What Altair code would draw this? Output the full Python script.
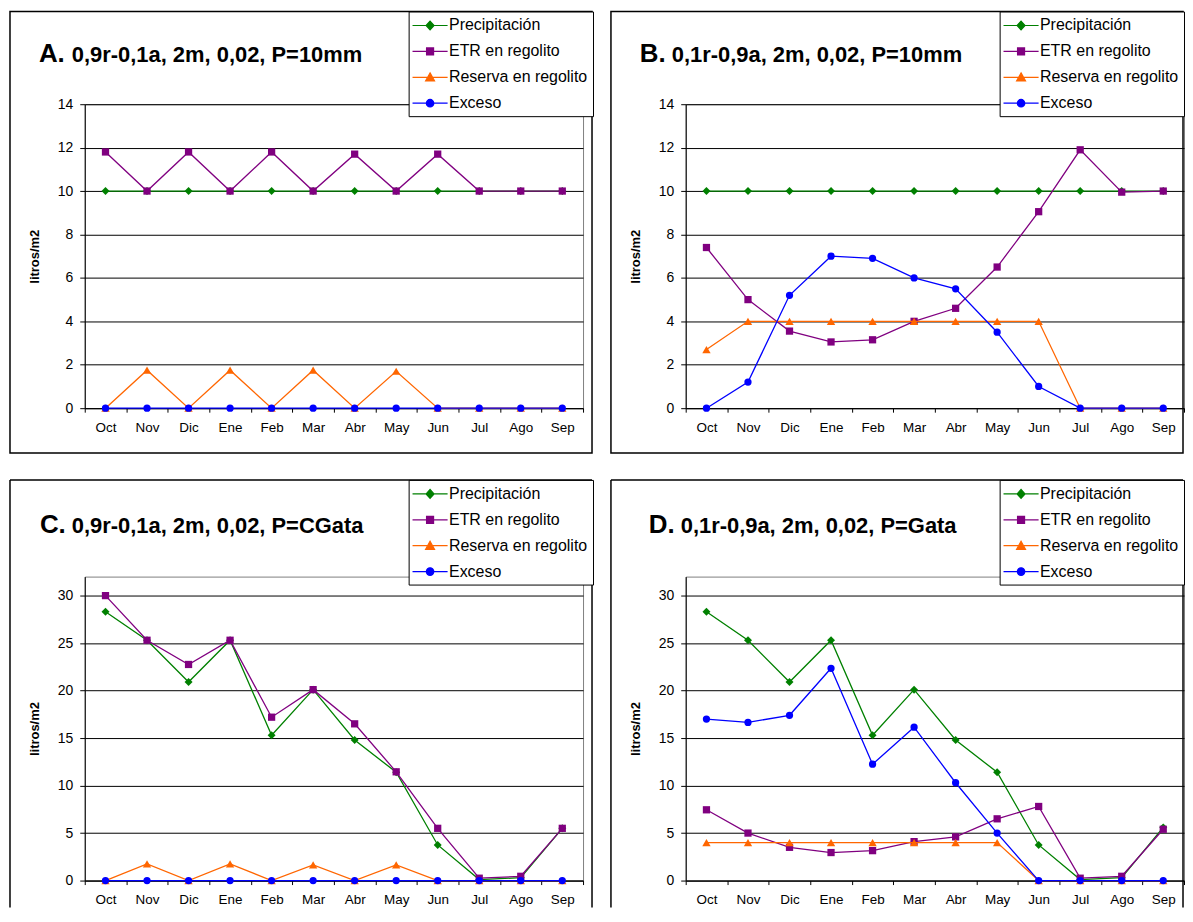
import altair as alt
import pandas as pd

FONT = "Liberation Sans"

meses = ["Oct", "Nov", "Dic", "Ene", "Feb", "Mar", "Abr", "May", "Jun", "Jul", "Ago", "Sep"]
series = ["Precipitación", "ETR en regolito", "Reserva en regolito", "Exceso"]
colores = ["#008000", "#800080", "#FF6600", "#0000FF"]

# Panel A
a_prec = [10, 10, 10, 10, 10, 10, 10, 10, 10, 10, 10, 10]
a_etr = [11.8, 10, 11.8, 10, 11.8, 10, 11.7, 10, 11.7, 10, 10, 10]
a_res = [0, 1.75, 0, 1.75, 0, 1.75, 0, 1.7, 0, 0, 0, 0]
a_exc = [0, 0, 0, 0, 0, 0, 0, 0, 0, 0, 0, 0]

# Panel B
b_prec = [10, 10, 10, 10, 10, 10, 10, 10, 10, 10, 10, 10]
b_etr = [7.4, 5.0, 3.55, 3.05, 3.15, 4.0, 4.6, 6.5, 9.05, 11.9, 9.95, 10.0]
b_res = [2.7, 4, 4, 4, 4, 4, 4, 4, 4, 0, 0, 0]
b_exc = [0, 1.2, 5.2, 7.0, 6.9, 6.0, 5.5, 3.5, 1.0, 0, 0, 0]

# Panel C
c_prec = [28.3, 25.3, 20.9, 25.3, 15.3, 20.1, 14.8, 11.4, 3.75, 0.1, 0.3, 5.5]
c_etr = [30.0, 25.3, 22.75, 25.3, 17.2, 20.1, 16.5, 11.45, 5.5, 0.25, 0.45, 5.5]
c_res = [0, 1.75, 0, 1.75, 0, 1.65, 0, 1.65, 0, 0, 0, 0]
c_exc = [0, 0, 0, 0, 0, 0, 0, 0, 0, 0, 0, 0]

# Panel D
d_prec = [28.3, 25.3, 20.9, 25.3, 15.3, 20.1, 14.8, 11.4, 3.75, 0.1, 0.3, 5.6]
d_etr = [7.45, 5.0, 3.5, 2.95, 3.15, 4.1, 4.6, 6.5, 7.8, 0.25, 0.45, 5.4]
d_res = [4, 4, 4, 4, 4, 4, 4, 4, 0, 0, 0, 0]
d_exc = [17.0, 16.65, 17.4, 22.35, 12.25, 16.15, 10.3, 5.0, 0, 0, 0, 0]

eje_14 = [0, 2, 4, 6, 8, 10, 12, 14]
eje_30 = [0, 5, 10, 15, 20, 25, 30]

W, H = 500, 305

panels = [
    dict(letra="A.", resto="0,9r-0,1a, 2m, 0,02, P=10mm", vals=[a_prec, a_etr, a_res, a_exc],
         ymax=14, ticks=eje_14, lx=-46, rx=-13, ty=-42, top=-93, fr=W + 9, fb=H + 45, closed=True, legx=325),
    dict(letra="B.", resto="0,1r-0,9a, 2m, 0,02, P=10mm", vals=[b_prec, b_etr, b_res, b_exc],
         ymax=14, ticks=eje_14, lx=-46, rx=-14, ty=-42, top=-93, fr=W - 1, fb=H + 45, closed=True, legx=315),
    dict(letra="C.", resto="0,9r-0,1a, 2m, 0,02, P=CGata", vals=[c_prec, c_etr, c_res, c_exc],
         ymax=32, ticks=eje_30, lx=-45, rx=-13, ty=-44, top=-97, fr=W + 9, fb=H + 27, closed=False, legx=325),
    dict(letra="D.", resto="0,1r-0,9a, 2m, 0,02, P=Gata", vals=[d_prec, d_etr, d_res, d_exc],
         ymax=32, ticks=eje_30, lx=-37, rx=-5, ty=-44, top=-97, fr=W - 1, fb=H + 27, closed=False, legx=315),
]

shapes = ["diamond", "square", "triangle-up", "circle"]
sizes = [64, 53, 70, 53]
leg_paths = [
    "M-2.2,0L2.2,0M0,-0.55L0.5,0L0,0.55L-0.5,0Z",
    "M-2.2,0L2.2,0M-0.44,-0.44L0.44,-0.44L0.44,0.44L-0.44,0.44Z",
    "M-2.2,0L2.2,0M0,-0.55L0.56,0.45L-0.56,0.45Z",
    "M-2.2,0L2.2,0M0.47,0A0.47,0.47,0,1,1,-0.47,0A0.47,0.47,0,1,1,0.47,0Z",
]


def panel(p):
    rows = []
    for s, vals in zip(series, p["vals"]):
        for m, v in zip(meses, vals):
            rows.append({"mes": m, "serie": s, "valor": v})
    df = pd.DataFrame(rows)
    base = alt.Chart(df)

    x = alt.X("mes:N", sort=meses, title=None,
              scale=alt.Scale(type="band", paddingInner=0, paddingOuter=0, domain=meses),
              axis=alt.Axis(labelAngle=0, tickBand="extent", grid=False, labelFontSize=13.5,
                            labelColor="black", domainColor="black", tickColor="black",
                            tickSize=4, labelPadding=8))
    y = alt.Y("valor:Q", title="litros/m2",
              scale=alt.Scale(domain=[0, p["ymax"]], nice=False, zero=True),
              axis=alt.Axis(values=p["ticks"], grid=True, gridColor="black", gridWidth=1,
                            labelFontSize=14, labelColor="black", domainColor="black",
                            tickColor="black", tickSize=5, labelPadding=7,
                            titleFontSize=13, titleFontWeight="bold", titleColor="black",
                            titlePadding=16))

    one = pd.DataFrame({"k": [0]})
    top = p["top"]
    layers = []
    if p["closed"]:
        layers.append(alt.Chart(one).mark_rect(fill="transparent", stroke="black", strokeWidth=1.5).encode(
            x=alt.value(-75), x2=alt.value(p["fr"]), y=alt.value(top), y2=alt.value(p["fb"])))
    else:
        fr = alt.Chart(one).mark_rule(color="black", strokeWidth=1.5)
        layers.append(fr.encode(x=alt.value(-75), x2=alt.value(p["fr"]), y=alt.value(top)))
        layers.append(fr.encode(x=alt.value(-75), y=alt.value(top), y2=alt.value(p["fb"])))
        layers.append(fr.encode(x=alt.value(p["fr"]), y=alt.value(top), y2=alt.value(p["fb"])))

    for s, c, shp, sz in zip(series, colores, shapes, sizes):
        sub = base.transform_filter(alt.datum.serie == s)
        layers.append(sub.mark_line(color=c, strokeWidth=1.3).encode(x=x, y=y))
        layers.append(sub.mark_point(shape=shp, filled=True, size=sz, color=c, opacity=1).encode(x=x, y=y))

    leg = alt.Legend(orient="none", legendX=p["legx"], legendY=top, title=None,
                     labelFontSize=16, labelColor="black", labelLimit=400,
                     symbolSize=256, symbolStrokeWidth=1.2, symbolOffset=7.5, labelOffset=10,
                     rowPadding=9, padding=5, strokeColor="black", fillColor="white")
    legend_layer = base.transform_filter("false").mark_point(filled=True, opacity=1).encode(
        shape=alt.Shape("serie:N", scale=alt.Scale(domain=series, range=leg_paths), legend=leg),
        fill=alt.Fill("serie:N", scale=alt.Scale(domain=series, range=colores), legend=leg),
        stroke=alt.Stroke("serie:N", scale=alt.Scale(domain=series, range=colores), legend=leg),
    )
    layers.append(legend_layer)

    t1 = alt.Chart(pd.DataFrame({"t": [p["letra"]]})).mark_text(
        align="left", baseline="alphabetic", fontSize=26, fontWeight="bold", color="black"
    ).encode(text="t:N", x=alt.value(p["lx"]), y=alt.value(p["ty"]))
    t2 = alt.Chart(pd.DataFrame({"t": [p["resto"]]})).mark_text(
        align="left", baseline="alphabetic", fontSize=22, fontWeight="bold", color="black"
    ).encode(text="t:N", x=alt.value(p["rx"]), y=alt.value(p["ty"]))
    layers += [t1, t2]

    return alt.layer(*layers).properties(width=W, height=H)


res = dict(fill="independent", stroke="independent", shape="independent")
row1 = alt.hconcat(panel(panels[0]), panel(panels[1]), spacing=15).resolve_scale(**res).resolve_legend(**res)
row2 = alt.hconcat(panel(panels[2]), panel(panels[3]), spacing=15).resolve_scale(**res).resolve_legend(**res)
chart = alt.vconcat(row1, row2, spacing=23).resolve_scale(**res).resolve_legend(**res).properties(
    padding=0
).configure_view(stroke="#808080", strokeWidth=1).configure_axis(
    labelFont=FONT, titleFont=FONT
).configure_legend(labelFont=FONT).configure_text(font=FONT)

chart.save("out.html", embed_options={"renderer": "svg", "actions": False})
